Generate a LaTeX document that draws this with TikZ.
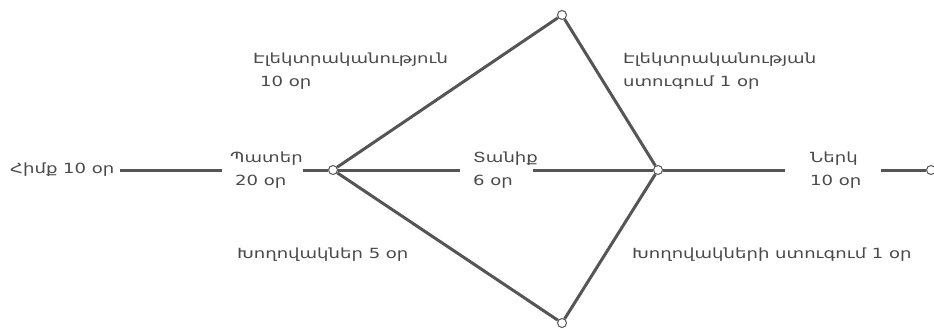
\documentclass[tikz,border=0pt]{standalone}
\usepackage{fontspec}
\setmainfont{DejaVu Sans}[FakeStretch=1.29]
\definecolor{linegray}{HTML}{555555}
\definecolor{textgray}{HTML}{4A4A4A}
\tikzset{
  evt/.style={circle,draw=linegray,fill=white,line width=1pt,minimum size=9pt,inner sep=0pt},
  lbl/.style={text=textgray,font=\fontsize{14}{23}\selectfont,inner sep=0pt,align=left},
  task/.style={draw=linegray,line width=3pt}
}
\begin{document}
\begin{tikzpicture}[x=1pt,y=-1pt]
\useasboundingbox (0,0) rectangle (934,329);
% events
\node[evt] (n1) at (333,170) {};
\node[evt] (top) at (562,15) {};
\node[evt] (bot) at (562,323) {};
\node[evt] (n2) at (658,170) {};
\node[evt] (n3) at (931,170) {};
% inline labels
\node[lbl,anchor=west] (himq) at (10,170) {Հիմք 10 օր};
\node[lbl,anchor=west] (pater) at (230,170) {Պատեր\\\hspace*{5pt}20 օր};
\node[lbl,anchor=west] (tanik) at (473,170) {Տանիք\\6 օր};
\node[lbl,anchor=west] (nerk) at (810,170) {Ներկ\\10 օր};
% edge labels
\node[lbl,anchor=west] (el) at (253,71) {Էլեկտրականություն\\\hspace*{7pt}10 օր};
\node[lbl,anchor=west] (elst) at (623,71) {Էլեկտրականության\\ստուգում 1 օր};
\node[lbl,anchor=west] (xox) at (237,255) {Խողովակներ 5 օր};
\node[lbl,anchor=west] (xoxst) at (632,255) {Խողովակների ստուգում 1 օր};
% connectors
\draw[task] ([xshift=5pt]himq.east) -- ([xshift=-8pt]pater.west);
\draw[task] (pater.east) -- (n1);
\draw[task] (n1) -- ([xshift=-13pt]tanik.west);
\draw[task] ([xshift=-5pt]tanik.east) -- (n2);
\draw[task] (n1) -- (top);
\draw[task] (n1) -- (bot);
\draw[task] (top) -- (n2);
\draw[task] (bot) -- (n2);
\draw[task] (n2) -- ([xshift=-25pt]nerk.west);
\draw[task] ([xshift=19pt]nerk.east) -- (n3);
\end{tikzpicture}
\end{document}
